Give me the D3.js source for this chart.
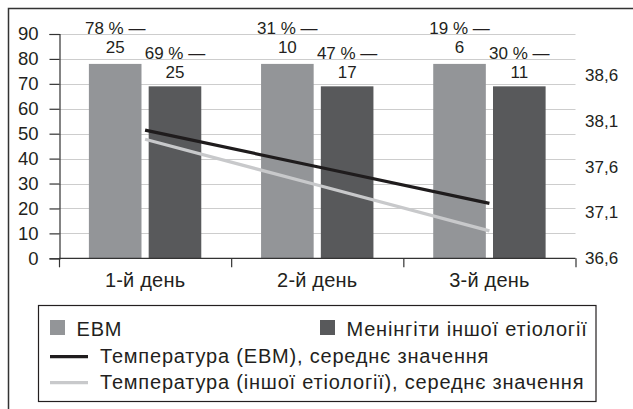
<!DOCTYPE html>
<html>
<head>
<meta charset="utf-8">
<script src="https://cdn.jsdelivr.net/npm/d3@7"></script>
<style>
  html, body { margin: 0; padding: 0; background: #fff; }
  svg { display: block; font-family: "Liberation Sans", Arial, Helvetica, sans-serif; }
</style>
</head>
<body>
<svg id="chart" width="633" height="409"></svg>
<script>
// Days of observation
const days = ["1-й день", "2-й день", "3-й день"];

// Bar series (left axis)
const seriesNames = ["ЕВМ", "Менінгіти іншої етіології"];
const ebmBars = [78, 78, 78];
const otherBars = [69, 69, 69];

// Annotations above the bars: share of patients and patient count
const ebmPct = [78, 31, 19];
const ebmCount = [25, 10, 6];
const otherPct = [69, 47, 30];
const otherCount = [25, 17, 11];

// Mean temperature (right axis)
const lineNames = [
  "Температура (ЕВМ), середнє значення",
  "Температура (іншої етіології), середнє значення"
];
const tempEbm = [38.0, 37.6, 37.2];
const tempOther = [37.9, 37.4, 36.9];

// Axis ticks
const leftTicks = [0, 10, 20, 30, 40, 50, 60, 70, 80, 90];
const rightTicks = [36.6, 37.1, 37.6, 38.1, 38.6];

const INK = "#231f20";
const BAR_COLORS = ["#939598", "#58595b"];
const LINE_COLORS = ["#1f1c1d", "#c8c9cb"];

const svg = d3.select("#chart");
const plotLeft = 59, plotRight = 575.5, plotTop = 34, plotBottom = 258.3;

const x0 = d3.scaleBand().domain(days).range([plotLeft, plotRight]).paddingInner(0).paddingOuter(0);
const x1 = d3.scaleBand().domain(seriesNames).range([0, x0.bandwidth()])
  .paddingInner(0.12).paddingOuter(0.5);
const y = d3.scaleLinear().domain([0, 90]).range([plotBottom, plotTop]);
const y2 = d3.scaleLinear().domain([36.6, 39.05]).range([plotBottom, plotTop]);

// Outer frame (top and left edges)
svg.append("path")
  .attr("d", "M8.5,409 V8.5 H633")
  .attr("fill", "none").attr("stroke", "#333").attr("stroke-width", 1.5);

// Horizontal gridlines
svg.append("g").selectAll("line")
  .data(leftTicks.filter(d => d > 0))
  .join("line")
  .attr("x1", plotLeft).attr("x2", plotRight)
  .attr("y1", d => Math.round(y(d)) + 0.5).attr("y2", d => Math.round(y(d)) + 0.5)
  .attr("stroke", "#cdcdcd").attr("stroke-width", 1);

// Bars
const barData = days.map((d, i) => [
  { day: d, s: seriesNames[0], v: ebmBars[i], pct: ebmPct[i], n: ebmCount[i], k: 0 },
  { day: d, s: seriesNames[1], v: otherBars[i], pct: otherPct[i], n: otherCount[i], k: 1 }
]).flat();

svg.append("g").selectAll("rect")
  .data(barData)
  .join("rect")
  .attr("x", d => x0(d.day) + x1(d.s))
  .attr("y", d => y(d.v))
  .attr("width", x1.bandwidth())
  .attr("height", d => y(0) - y(d.v))
  .attr("fill", d => BAR_COLORS[d.k]);

// Left axis
const yAxis = d3.axisLeft(y).tickValues(leftTicks).tickSize(10).tickPadding(11);
const gy = svg.append("g").attr("transform", `translate(${plotLeft + 0.5},0)`).call(yAxis);
gy.select(".domain").attr("stroke", "#333").attr("stroke-width", 1.2);
gy.selectAll(".tick line").attr("stroke", "#333").attr("stroke-width", 1.2);
gy.selectAll(".tick text").attr("fill", INK).style("font-size", "18.5px")
  .style("font-family", "Liberation Sans, Arial, sans-serif");

// Bottom axis with ticks on category boundaries
const xAxisG = svg.append("g").attr("transform", `translate(0,${plotBottom})`);
xAxisG.append("line").attr("x1", plotLeft).attr("x2", plotRight)
  .attr("stroke", "#333").attr("stroke-width", 1.2);
xAxisG.selectAll("line.tk")
  .data(days.map(d => x0(d)).concat([plotRight]))
  .join("line").attr("class", "tk")
  .attr("x1", d => d + 0.5).attr("x2", d => d + 0.5)
  .attr("y1", 0).attr("y2", 9)
  .attr("stroke", "#333").attr("stroke-width", 1.2);
xAxisG.selectAll("text")
  .data(days)
  .join("text")
  .attr("x", d => x0(d) + x0.bandwidth() / 2)
  .attr("y", 28.5)
  .attr("text-anchor", "middle")
  .attr("fill", INK).style("font-size", "20px").style("letter-spacing", "0.2px")
  .text(d => d);

// Right axis labels
const fmt = v => d3.format(".1f")(v).replace(".", ",");
const yAxisR = d3.axisRight(y2).tickValues(rightTicks).tickSize(0).tickPadding(9.5).tickFormat(fmt);
const gyr = svg.append("g").attr("transform", `translate(${plotRight},0)`).call(yAxisR);
gyr.select(".domain").remove();
gyr.selectAll(".tick text").attr("fill", INK).style("font-size", "17px")
  .style("font-family", "Liberation Sans, Arial, sans-serif");

// Temperature lines
const line = d3.line()
  .x((d, i) => x0(days[i]) + x0.bandwidth() / 2)
  .y(d => y2(d));
[tempOther, tempEbm].forEach((series, j) => {
  svg.append("path")
    .datum(series)
    .attr("d", line)
    .attr("fill", "none")
    .attr("stroke", j === 0 ? LINE_COLORS[1] : LINE_COLORS[0])
    .attr("stroke-width", 3.2);
});

// Bar annotations: two-line label "NN % —" / count
const labels = svg.append("g").attr("fill", INK).style("font-size", "17px").attr("text-anchor", "middle");
barData.forEach(d => {
  const cx = x0(d.day) + x1(d.s) + x1.bandwidth() / 2;
  const t = y(d.v);
  const off1 = d.k === 0 ? 30 : 27.5;
  const off2 = d.k === 0 ? 10.5 : 8;
  labels.append("text").attr("x", cx).attr("y", t - off1).text(`${d.pct} % —`);
  labels.append("text").attr("x", cx).attr("y", t - off2).text(`${d.n}`);
});

// Legend
const lg = svg.append("g").style("font-size", "20px").style("letter-spacing", "0.8px");
lg.append("rect").attr("x", 38.5).attr("y", 305.5).attr("width", 557.5).attr("height", 96)
  .attr("fill", "#fff").attr("stroke", INK).attr("stroke-width", 1.2);
const swatchX = [50, 320];
seriesNames.forEach((name, i) => {
  lg.append("rect").attr("x", swatchX[i]).attr("y", 320).attr("width", 15).attr("height", 15)
    .attr("fill", BAR_COLORS[i]);
  lg.append("text").attr("x", swatchX[i] + 26.5).attr("y", 335.5)
    .attr("fill", INK).text(name);
});
const lineRowY = [356.7, 382.7];
lineNames.forEach((name, i) => {
  lg.append("line").attr("x1", 50).attr("x2", 88)
    .attr("y1", lineRowY[i]).attr("y2", lineRowY[i])
    .attr("stroke", LINE_COLORS[i]).attr("stroke-width", 3.2);
  lg.append("text").attr("x", 100).attr("y", lineRowY[i] + 6.5)
    .attr("fill", INK).text(name);
});
</script>
</body>
</html>
